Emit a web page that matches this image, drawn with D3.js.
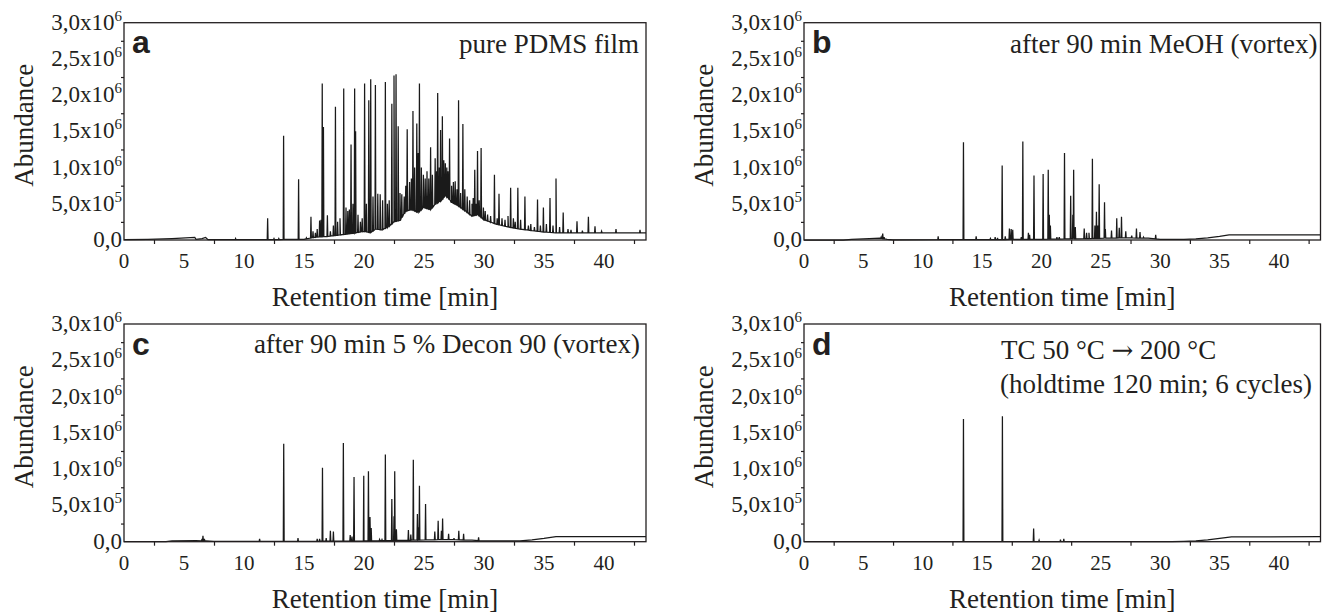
<!DOCTYPE html>
<html>
<head>
<meta charset="utf-8">
<script src="https://cdn.jsdelivr.net/npm/d3@7"></script>
<style>
body { margin: 0; background: #fff; }
</style>
</head>
<body>
<script>
var serif = "'Liberation Serif', 'Times New Roman', serif"

// axis ticks
var xTicks = [0, 5, 10, 15, 20, 25, 30, 35, 40]
var xMinor = [2.5, 7.5, 12.5, 17.5, 22.5, 27.5, 32.5, 37.5, 42.5]
var yTicks = [0, 0.5, 1, 1.5, 2, 2.5, 3]          // x10^6
var yMinor = [0.25, 0.75, 1.25, 1.75, 2.25, 2.75]
var yTickMant = ["0,0", "5,0x10", "1,0x10", "1,5x10", "2,0x10", "2,5x10", "3,0x10"]
var yTickExp = ["", "5", "6", "6", "6", "6", "6"]

// panel a - pure PDMS film (peak apex times [min] and abundances [x10^6])
var peakTimeA = [9.3, 11.97, 12.5, 12.9, 13.3, 14.55, 15.2, 15.58, 15.75, 15.95, 16.1, 16.3, 16.42, 16.52, 16.62, 16.95, 17.2, 17.45, 17.62, 17.8, 18.0, 18.31, 18.5, 18.65, 18.78, 18.92, 19.08, 19.22, 19.3, 19.5, 19.7, 19.85, 20.05, 20.2, 20.4, 20.56, 20.75, 20.95, 21.15, 21.35, 21.55, 21.78, 21.95, 22.1, 22.32, 22.5, 22.67, 22.85, 23.0, 23.15, 23.35, 23.48, 23.6, 23.8, 23.95, 24.08, 24.22, 24.4, 24.52, 24.62, 24.78, 24.95, 25.1, 25.25, 25.4, 25.55, 25.7, 25.93, 26.05, 26.14, 26.28, 26.38, 26.53, 26.65, 26.78, 26.9, 27.0, 27.13, 27.3, 27.45, 27.6, 27.75, 27.88, 28.05, 28.24, 28.4, 28.6, 28.8, 29.0, 29.1, 29.23, 29.35, 29.46, 29.6, 29.76, 29.95, 30.1, 30.3, 30.55, 30.87, 31.1, 31.25, 31.5, 31.75, 32.0, 32.22, 32.45, 32.6, 32.82, 33.05, 33.41, 33.7, 33.9, 34.2, 34.46, 34.7, 34.95, 35.2, 35.5, 35.75, 36.0, 36.3, 36.6, 37.0, 37.25, 37.75, 38.2, 38.7, 39.25, 39.8, 41.0, 43.0]
var peakAbundA = [0.02, 0.30, 0.02, 0.02, 1.44, 0.84, 0.03, 0.32, 0.12, 0.10, 0.15, 0.27, 0.28, 2.16, 1.56, 0.34, 0.12, 0.20, 1.84, 0.25, 0.30, 2.09, 0.45, 0.40, 0.42, 1.32, 0.50, 2.09, 1.50, 0.35, 0.25, 0.30, 2.16, 0.50, 1.93, 2.22, 0.60, 2.14, 0.64, 0.63, 0.55, 2.18, 0.50, 0.55, 1.88, 2.27, 2.29, 1.57, 0.65, 0.63, 0.60, 0.75, 1.53, 0.80, 0.85, 1.78, 1.00, 1.61, 1.20, 2.16, 1.00, 0.90, 0.85, 0.95, 0.85, 1.28, 0.90, 1.13, 0.95, 2.03, 1.00, 1.52, 1.71, 1.10, 1.06, 1.00, 0.95, 1.40, 0.75, 0.80, 0.81, 0.70, 1.93, 0.65, 1.60, 0.70, 0.60, 0.55, 0.50, 0.58, 0.97, 0.50, 1.23, 0.55, 1.27, 0.45, 0.40, 0.35, 0.33, 0.90, 0.30, 0.64, 0.30, 0.28, 0.33, 0.72, 0.30, 0.25, 0.72, 0.28, 0.60, 0.20, 0.22, 0.18, 0.56, 0.20, 0.45, 0.22, 0.58, 0.20, 0.85, 0.18, 0.38, 0.15, 0.14, 0.26, 0.13, 0.32, 0.19, 0.12, 0.15, 0.14]
// lower envelope of the trace (valleys between peaks)
var baseTimeA = [0, 2, 4, 5.9, 6.0, 6.5, 6.8, 7.0, 11.8, 15.0, 16, 17, 18, 19, 20, 20.5, 21, 21.5, 22, 22.5, 23, 23.5, 24, 24.5, 25, 25.5, 26, 26.5, 26.8, 27.3, 27.8, 28.3, 29, 29.5, 30, 30.5, 31, 32, 33, 34, 35, 36, 38, 43.5]
var baseAbundA = [0.005, 0.01, 0.02, 0.035, 0.01, 0.02, 0.035, 0.005, 0.005, 0.01, 0.04, 0.05, 0.07, 0.09, 0.12, 0.1, 0.15, 0.14, 0.18, 0.25, 0.27, 0.4, 0.42, 0.38, 0.45, 0.42, 0.5, 0.55, 0.62, 0.52, 0.48, 0.42, 0.33, 0.35, 0.28, 0.25, 0.22, 0.18, 0.15, 0.13, 0.11, 0.1, 0.1, 0.1]

// panel b - after 90 min MeOH
var peakTimeB = [6.5, 6.63, 6.75, 11.3, 13.43, 14.5, 15.7, 16.1, 16.3, 16.69, 16.95, 17.3, 17.45, 17.58, 18.3, 18.43, 18.9, 19.0, 19.37, 20.14, 20.57, 20.66, 20.75, 21.3, 21.5, 21.94, 22.46, 22.64, 22.71, 22.85, 23.6, 23.8, 24.0, 24.29, 24.5, 24.63, 24.74, 24.86, 25.31, 25.38, 25.9, 26.34, 26.55, 26.74, 27.1, 27.6, 28.0, 28.3, 28.6, 29.62]
var peakAbundB = [0.04, 0.09, 0.04, 0.05, 1.35, 0.05, 0.02, 0.04, 0.03, 1.03, 0.05, 0.16, 0.15, 0.14, 0.04, 1.36, 0.10, 0.07, 0.89, 0.91, 0.97, 0.35, 0.20, 0.04, 0.04, 1.20, 0.61, 0.35, 0.97, 0.18, 0.16, 0.10, 0.10, 1.12, 0.20, 0.39, 0.20, 0.77, 0.52, 0.15, 0.13, 0.30, 0.17, 0.32, 0.12, 0.06, 0.16, 0.11, 0.04, 0.07]
var baseTimeB = [0, 3.3, 4, 5.5, 6.4, 7.0, 7.5, 15, 20, 24, 27, 29, 30, 32, 33, 34, 35, 35.8, 43.5]
var baseAbundB = [0, 0, 0.01, 0.02, 0.025, 0.01, 0.003, 0.005, 0.01, 0.02, 0.03, 0.025, 0.01, 0.008, 0.015, 0.03, 0.05, 0.07, 0.072]

// panel c - after 90 min 5 % Decon 90
var peakTimeC = [6.5, 6.58, 6.7, 11.3, 13.31, 14.5, 16.1, 16.3, 16.54, 16.85, 17.2, 17.45, 18.28, 18.85, 19.0, 19.17, 19.98, 20.37, 20.5, 20.6, 21.3, 21.5, 21.78, 22.32, 22.5, 22.56, 22.7, 23.7, 23.9, 24.11, 24.45, 24.53, 24.62, 25.13, 25.9, 26.18, 26.45, 26.55, 27.05, 27.5, 27.9, 28.3, 29.55]
var peakAbundC = [0.04, 0.08, 0.04, 0.04, 1.35, 0.05, 0.04, 0.04, 1.02, 0.05, 0.15, 0.14, 1.36, 0.09, 0.07, 0.89, 0.91, 0.97, 0.34, 0.19, 0.03, 0.03, 1.20, 0.59, 0.35, 0.97, 0.17, 0.16, 0.10, 1.13, 0.38, 0.20, 0.77, 0.52, 0.14, 0.29, 0.15, 0.32, 0.11, 0.05, 0.15, 0.11, 0.06]
var baseTimeC = [0, 3.5, 4, 6, 6.8, 7.5, 15, 20, 24, 27, 29, 30, 33, 34, 35, 36, 43.5]
var baseAbundC = [0, 0, 0.01, 0.015, 0.01, 0.003, 0.005, 0.01, 0.02, 0.03, 0.02, 0.01, 0.01, 0.025, 0.045, 0.07, 0.07]

// panel d - thermocycling
var peakTimeD = [13.43, 16.71, 19.34, 19.8, 21.6, 21.88]
var peakAbundD = [1.69, 1.73, 0.18, 0.02, 0.03, 0.04]
var baseTimeD = [0, 31, 32, 33, 34, 35, 36, 43.5]
var baseAbundD = [0, 0, 0.005, 0.012, 0.025, 0.045, 0.065, 0.07]

var panels = [
	{ letter: "a", x0: 124, x1: 646, y0: 22.7, y1: 240, peaksT: peakTimeA, peaksY: peakAbundA, baseT: baseTimeA, baseY: baseAbundA,
	  notes: [{ text: ["pure PDMS film"], x: -7, y: 30.5, anchor: "end" }] },
	{ letter: "b", x0: 804, x1: 1320.5, y0: 22.7, y1: 240, peaksT: peakTimeB, peaksY: peakAbundB, baseT: baseTimeB, baseY: baseAbundB,
	  notes: [{ text: ["after 90 min MeOH (vortex)"], x: -3, y: 30.5, anchor: "end" }] },
	{ letter: "c", x0: 124, x1: 646, y0: 324, y1: 541.7, peaksT: peakTimeC, peaksY: peakAbundC, baseT: baseTimeC, baseY: baseAbundC,
	  notes: [{ text: ["after 90 min 5 % Decon 90 (vortex)"], x: -6, y: 28.5, anchor: "end" }] },
	{ letter: "d", x0: 804, x1: 1320.5, y0: 324, y1: 541.7, peaksT: peakTimeD, peaksY: peakAbundD, baseT: baseTimeD, baseY: baseAbundD,
	  notes: [{ text: ["TC 50 °C ", "\u2192", " 200 °C"], x: 197, y: 35, anchor: "start", left: true },
	          { text: ["(holdtime 120 min; 6 cycles)"], x: 196, y: 69, anchor: "start", left: true }] }
]

var svg = d3.select("body").append("svg")
	.attr("width", 1322)
	.attr("height", 613)

panels.forEach(function(p) {
	drawPanel(svg, p)
})

function buildTrace(p) {
	// baseline level under each peak, read through a piecewise linear scale
	var base = d3.scaleLinear().domain(p.baseT).range(p.baseY).clamp(true)
	var hw = 0.035
	var pts = p.baseT.map(function(t, i) { return [t, p.baseY[i]] })
	p.peaksT.forEach(function(t, i) {
		pts.push([t - hw, base(t)])
		pts.push([t, p.peaksY[i]])
		pts.push([t + hw, base(t)])
	})
	pts.sort(function(a, b) { return a[0] - b[0] })
	return pts
}

function drawPanel(svg, p) {
	var x = d3.scaleLinear().domain([0, 43.5]).range([p.x0, p.x1])
	var y = d3.scaleLinear().domain([0, 3]).range([p.y1, p.y0])
	var g = svg.append("g")

	// trace
	var line = d3.line()
		.x(function(d) { return x(d[0]) })
		.y(function(d) { return y(d[1]) })
	g.append("path")
		.datum(buildTrace(p))
		.attr("d", line)
		.attr("fill", "none")
		.attr("stroke", "#1a1a1a")
		.attr("stroke-width", 1.25)

	// frame
	g.append("rect")
		.attr("x", p.x0).attr("y", p.y0)
		.attr("width", p.x1 - p.x0).attr("height", p.y1 - p.y0)
		.attr("fill", "none").attr("stroke", "#231f20").attr("stroke-width", 1.3)

	// axes: major and minor ticks
	var xg = g.append("g").attr("transform", "translate(0," + p.y1 + ")")
	xg.call(d3.axisBottom(x).tickValues(xTicks).tickSize(6).tickFormat(""))
	xg.call(d3.axisBottom(x).tickValues(xMinor).tickSize(4).tickFormat(""))
	var yg = g.append("g").attr("transform", "translate(" + p.x0 + ",0)")
	yg.call(d3.axisLeft(y).tickValues(yTicks).tickSize(6).tickFormat(""))
	yg.call(d3.axisLeft(y).tickValues(yMinor).tickSize(3).tickFormat(""))
	g.selectAll(".domain").remove()
	g.selectAll(".tick text").remove()
	g.selectAll(".tick line").attr("stroke", "#231f20").attr("stroke-width", 1.2)

	// tick labels
	g.selectAll(".xlab").data(xTicks).enter().append("text")
		.attr("x", function(d) { return x(d) })
		.attr("y", p.y1 + 28)
		.attr("text-anchor", "middle")
		.style("font-family", serif)
		.style("font-size", "21px")
		.style("fill", "#231f20")
		.text(function(d) { return d })

	var yl = g.selectAll(".ylab").data(yTicks).enter().append("text")
		.attr("x", p.x0 - 2)
		.attr("y", function(d) { return y(d) + 7 })
		.attr("text-anchor", "end")
		.style("font-family", serif)
		.style("font-size", "23px")
		.style("fill", "#231f20")
	yl.append("tspan").text(function(d, i) { return yTickMant[i] })
	yl.append("tspan")
		.attr("dy", -9)
		.style("font-size", "15px")
		.text(function(d, i) { return yTickExp[i] })

	// axis titles
	g.append("text")
		.attr("x", (p.x0 + p.x1) / 2)
		.attr("y", p.y1 + 66)
		.attr("text-anchor", "middle")
		.style("font-family", serif)
		.style("font-size", "27px")
		.style("fill", "#231f20")
		.text("Retention time [min]")
	g.append("text")
		.attr("transform", "translate(" + (p.x0 - 91) + "," + ((p.y0 + p.y1) / 2 - 6) + ") rotate(-90)")
		.attr("text-anchor", "middle")
		.style("font-family", serif)
		.style("font-size", "27px")
		.style("fill", "#231f20")
		.text("Abundance")

	// panel letter and annotation
	g.append("text")
		.attr("x", p.x0 + 8)
		.attr("y", p.y0 + 30.5)
		.style("font-family", "'Liberation Sans', Arial, sans-serif")
		.style("font-weight", "bold")
		.style("font-size", "32px")
		.style("fill", "#231f20")
		.text(p.letter)
	p.notes.forEach(function(n) {
		var t = g.append("text")
			.attr("x", n.left ? p.x0 + n.x : p.x1 + n.x)
			.attr("y", p.y0 + n.y)
			.attr("text-anchor", n.anchor)
			.style("font-family", serif)
			.style("font-size", "27px")
			.style("fill", "#231f20")
		n.text.forEach(function(s) {
			var sp = t.append("tspan").text(s)
			if (s == "\u2192") sp.style("font-family", "'DejaVu Serif', serif").style("font-size", "26px")
		})
	})
}
</script>
</body>
</html>
